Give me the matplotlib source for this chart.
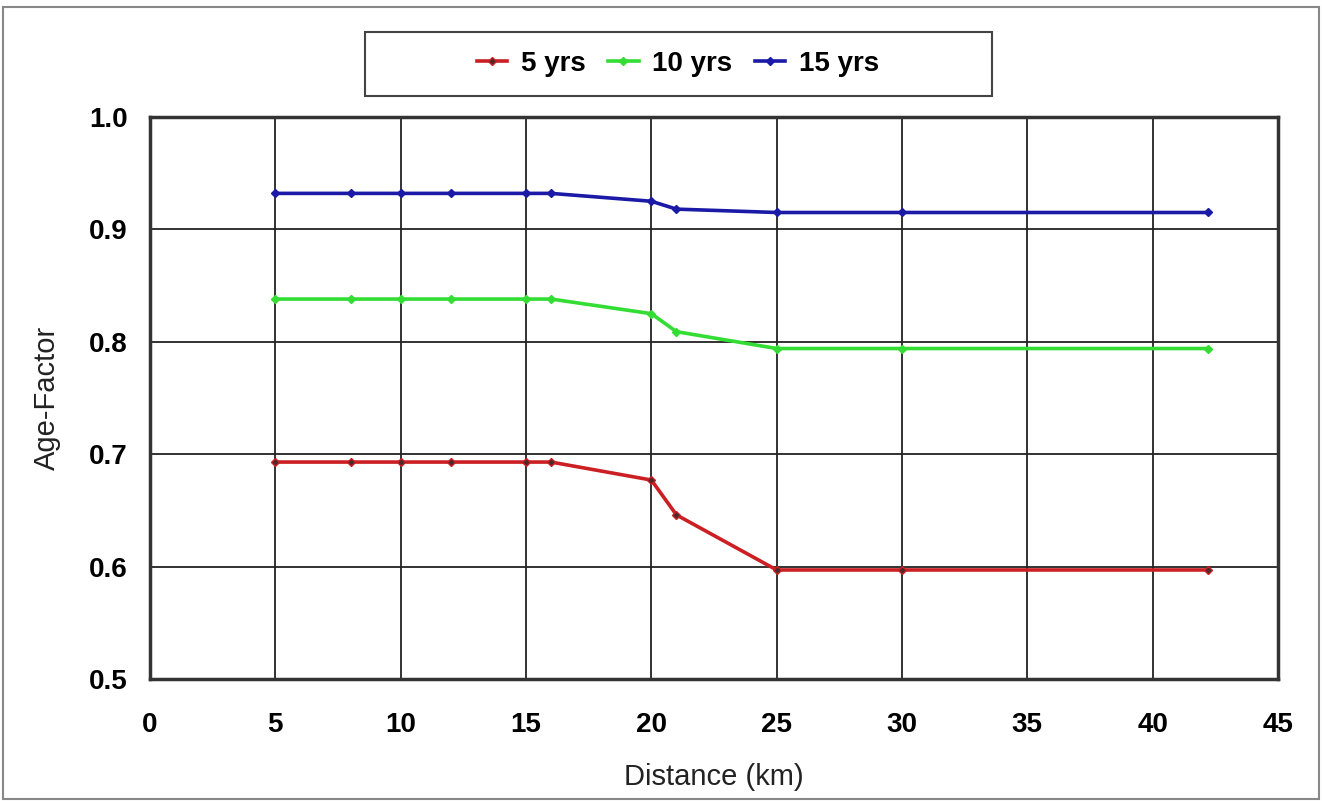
import matplotlib
matplotlib.use("Agg")
import matplotlib.pyplot as plt
from matplotlib.patches import Rectangle

plt.rcParams['font.family'] = ['Liberation Sans', 'DejaVu Sans']

# distances (km) and age factors
distance = [5, 8, 10, 12, 15, 16, 20, 21, 25, 30, 42.195]
age_5 = [0.693, 0.693, 0.693, 0.693, 0.693, 0.693, 0.677, 0.646, 0.597, 0.597, 0.597]
age_10 = [0.838, 0.838, 0.838, 0.838, 0.838, 0.838, 0.825, 0.809, 0.794, 0.794, 0.794]
age_15 = [0.932, 0.932, 0.932, 0.932, 0.932, 0.932, 0.925, 0.918, 0.915, 0.915, 0.915]
labels = ["5 yrs", "10 yrs", "15 yrs"]
colors = ["#cc1f24", "#33dd33", "#1a1aa6"]

fig = plt.figure(figsize=(13.22, 8.01), dpi=100)
ax = fig.add_axes([0.1135, 0.1523, 0.8532, 0.7017])

handles = []
for ys, lab, col in zip([age_5, age_10, age_15], labels, colors):
    h, = ax.plot(distance, ys, color=col, lw=2.6, marker='D', markersize=4.5,
                 markerfacecolor='#4a2a2a' if col == colors[0] else col,
                 markeredgecolor=col, label=lab, zorder=3)
    handles.append(h)

ax.set_xlim(0, 45)
ax.set_ylim(0.5, 1.0)
ax.set_xticks(range(0, 46, 5))
ax.set_yticks([0.5, 0.6, 0.7, 0.8, 0.9, 1.0])
ax.set_yticklabels(["0.5", "0.6", "0.7", "0.8", "0.9", "1.0"])
ax.grid(True, color='#222222', lw=1.3)
ax.tick_params(length=0, labelsize=20)
ax.tick_params(axis='x', pad=24)
ax.tick_params(axis='y', pad=16)
for t in ax.get_xticklabels() + ax.get_yticklabels():
    t.set_fontweight('bold')
for s in ax.spines.values():
    s.set_linewidth(2.5)
    s.set_color('#333333')

ax.set_xlabel("Distance (km)", fontsize=21, color='#222222', labelpad=18)
ax.set_ylabel("Age-Factor", fontsize=21, color='#222222', labelpad=20)

# legend box
fig.patches.append(Rectangle((365 / 1322, 1 - 96 / 801), 627 / 1322, 64 / 801,
                             transform=fig.transFigure, fill=False,
                             edgecolor='#444444', lw=1.5))
leg = fig.legend(handles=handles, loc='center', bbox_to_anchor=(678 / 1322, 1 - 64 / 801),
                 ncol=3, frameon=False, prop={'weight': 'bold', 'size': 20},
                 handlelength=1.1, handletextpad=0.5, columnspacing=0.8)

# outer border
fig.patches.append(Rectangle((3 / 1322, 2 / 801), 1316 / 1322, 792 / 801,
                             transform=fig.transFigure, fill=False,
                             edgecolor='#888888', lw=1.5))

fig.savefig("out.png", dpi=100)
